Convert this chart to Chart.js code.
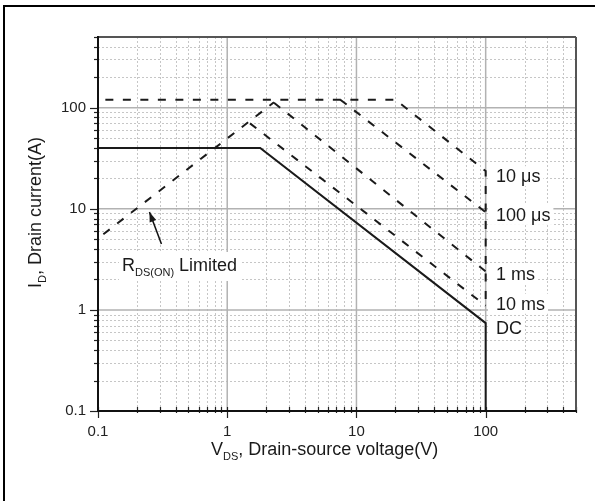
<!DOCTYPE html>
<html>
<head>
<meta charset="utf-8">
<script src="https://cdn.jsdelivr.net/npm/chart.js@4/dist/chart.umd.min.js"></script>
<style>
  html, body { margin: 0; background: #fff; }
  #wrap { width: 595px; height: 501px; }
</style>
</head>
<body>
<div id="wrap"><canvas id="soa"></canvas></div>
<script>
const FONT = '"Liberation Sans", Arial, sans-serif';

// axes: both log, 0.1 .. 500
const axisMin = 0.1;
const axisMax = 500;
const decades = [0.1, 1, 10, 100];
const decadeLabels = ['0.1', '1', '10', '100'];

// safe operating area curves, V_DS (V) / I_D (A)
const dcV = [0.1, 1.8, 100, 100];
const dcI = [40, 40, 0.74, 0.1];
const rdsV = [0.11, 2.3];
const rdsI = [5.6, 113];
const us10V = [0.114, 20, 100, 100];
const us10I = [120, 120, 23.6, 1.1];
const us100V = [7.5, 100];
const us100I = [120, 9.25];
const ms1V = [2.3, 100];
const ms1I = [112, 2.4];
const ms10V = [1.5, 100];
const ms10I = [70, 1.1];

const curveNames = ['10 μs', '100 μs', '1 ms', '10 ms', 'DC'];
const nameAt = [21, 8.7, 2.28, 1.15, 0.66]; // I_D where each name sits

// grid values 1..9 per decade
const gridVals = [];
for (let e = -1; e <= 2; e++) {
  for (let m = 1; m <= 9; m++) {
    const v = +(m * Math.pow(10, e)).toPrecision(3);
    if (v <= axisMax) gridVals.push(v);
  }
}

const pts = (xs, ys) => xs.map((v, i) => ({ x: v, y: ys[i] }));

function line(ctx, x1, y1, x2, y2) {
  ctx.beginPath();
  ctx.moveTo(x1, y1);
  ctx.lineTo(x2, y2);
  ctx.stroke();
}

// text with subscripts: parts = [[text, isSub], ...]
function drawRich(ctx, parts, x, y) {
  let cx = x;
  parts.forEach(([t, sub]) => {
    ctx.font = (sub ? 11 : 18) + 'px ' + FONT;
    ctx.fillText(t, cx, sub ? y + 5 : y);
    cx += ctx.measureText(t).width;
  });
  return cx - x;
}

const soaDecor = {
  id: 'soaDecor',
  beforeDatasetsDraw(chart) {
    const { ctx, chartArea: a, scales: { x, y } } = chart;
    ctx.save();

    // minor grid, dotted
    ctx.lineWidth = 1;
    ctx.strokeStyle = '#c6c6c6';
    ctx.setLineDash([2, 2]);
    gridVals.forEach(v => {
      if (decades.includes(v)) return;
      const px = Math.round(x.getPixelForValue(v)) + 0.5;
      line(ctx, px, a.top, px, a.bottom);
      const py = Math.round(y.getPixelForValue(v)) + 0.5;
      line(ctx, a.left, py, a.right, py);
    });

    // major grid
    ctx.setLineDash([]);
    ctx.strokeStyle = '#b2b2b2';
    ctx.lineWidth = 1.5;
    decades.forEach(v => {
      const px = x.getPixelForValue(v);
      line(ctx, px, a.top, px, a.bottom);
      const py = y.getPixelForValue(v);
      line(ctx, a.left, py, a.right, py);
    });

    // white boxes behind the annotations
    ctx.fillStyle = '#fff';
    ctx.font = '18px ' + FONT;
    curveNames.forEach((t, i) => {
      const cy = y.getPixelForValue(nameAt[i]);
      ctx.fillRect(488, cy - 10, 496 - 488 + ctx.measureText(t).width + 3, 20);
    });
    ctx.fillRect(119, 252, 122, 29);
    ctx.restore();
  },
  afterDatasetsDraw(chart) {
    const { ctx, chartArea: a, scales: { x, y } } = chart;
    ctx.save();

    // ticks
    ctx.strokeStyle = '#222';
    ctx.lineWidth = 1.2;
    gridVals.forEach(v => {
      const major = decades.includes(v);
      const px = Math.round(x.getPixelForValue(v)) + 0.5;
      line(ctx, px, a.bottom - 4, px, a.bottom + (major ? 7 : 2));
      const py = Math.round(y.getPixelForValue(v)) + 0.5;
      line(ctx, a.left - (major ? 8 : 4), py, a.left, py);
    });

    // frame
    ctx.strokeStyle = '#555';
    ctx.lineWidth = 2;
    line(ctx, a.left, a.top, a.right, a.top);
    line(ctx, a.right, a.top, a.right, a.bottom);
    ctx.strokeStyle = '#111';
    line(ctx, a.left, a.top - 1, a.left, a.bottom + 1);
    line(ctx, a.left - 1, a.bottom, a.right + 1, a.bottom);

    // outer border of the figure
    ctx.strokeStyle = '#000';
    line(ctx, 3, 6, 595, 6);
    line(ctx, 4, 5, 4, 501);

    // curve names
    ctx.fillStyle = '#1a1a1a';
    ctx.font = '18px ' + FONT;
    ctx.textBaseline = 'middle';
    curveNames.forEach((t, i) => {
      ctx.fillText(t, 496, y.getPixelForValue(nameAt[i]) + 1);
    });

    // axis titles
    ctx.textBaseline = 'alphabetic';
    drawRich(ctx, [['V', false], ['DS', true], [', Drain-source voltage(V)', false]], 211, 455);
    ctx.save();
    ctx.translate(41, 288);
    ctx.rotate(-Math.PI / 2);
    drawRich(ctx, [['I', false], ['D', true], [', Drain current(A)', false]], 0, 0);
    ctx.restore();

    // R_DS(ON) limited note with arrow
    drawRich(ctx, [['R', false], ['DS(ON)', true], [' Limited', false]], 122, 271);
    const tx = x.getPixelForValue(0.25), ty = y.getPixelForValue(9.3);
    const sx = tx + 12, sy = ty + 32;
    ctx.strokeStyle = '#111';
    ctx.lineWidth = 1.5;
    line(ctx, sx, sy, tx, ty);
    const ang = Math.atan2(ty - sy, tx - sx);
    ctx.beginPath();
    ctx.moveTo(tx, ty);
    ctx.lineTo(tx - 10 * Math.cos(ang) + 3.5 * Math.sin(ang), ty - 10 * Math.sin(ang) - 3.5 * Math.cos(ang));
    ctx.lineTo(tx - 10 * Math.cos(ang) - 3.5 * Math.sin(ang), ty - 10 * Math.sin(ang) + 3.5 * Math.cos(ang));
    ctx.closePath();
    ctx.fill();
    ctx.restore();
  }
};

const dash = [8, 9.5];
const ink = '#1a1a1a';
const mk = (data, dashed) => ({
  data,
  borderColor: ink,
  borderWidth: 2,
  borderDash: dashed ? dash : [],
  pointRadius: 0,
  fill: false,
  tension: 0
});

new Chart(document.getElementById('soa'), {
  type: 'line',
  data: {
    datasets: [
      mk(pts(dcV, dcI), false),
      mk(pts(rdsV, rdsI), true),
      mk(pts(us10V, us10I), true),
      mk(pts(us100V, us100I), true),
      mk(pts(ms1V, ms1I), true),
      mk(pts(ms10V, ms10I), true)
    ]
  },
  options: {
    responsive: true,
    maintainAspectRatio: false,
    animation: false,
    layout: { padding: { left: 0, top: 37, right: 19, bottom: 0 } },
    plugins: { legend: { display: false }, tooltip: { enabled: false } },
    scales: {
      x: {
        type: 'logarithmic',
        min: axisMin,
        max: axisMax,
        grid: { display: false, drawTicks: false },
        border: { display: false },
        afterBuildTicks: s => { s.ticks = decades.map(v => ({ value: v })); },
        afterFit: s => { s.height = 90; },
        ticks: {
          autoSkip: false,
          maxRotation: 0,
          padding: 12,
          color: '#222',
          font: { family: FONT, size: 15 },
          callback: (v, i) => decadeLabels[i]
        }
      },
      y: {
        type: 'logarithmic',
        min: axisMin,
        max: axisMax,
        grid: { display: false, drawTicks: false },
        border: { display: false },
        afterBuildTicks: s => { s.ticks = decades.map(v => ({ value: v })); },
        afterFit: s => { s.width = 98; },
        ticks: {
          autoSkip: false,
          padding: 12,
          color: '#222',
          font: { family: FONT, size: 15 },
          callback: (v, i) => decadeLabels[i]
        }
      }
    }
  },
  plugins: [soaDecor]
});
</script>
</body>
</html>
